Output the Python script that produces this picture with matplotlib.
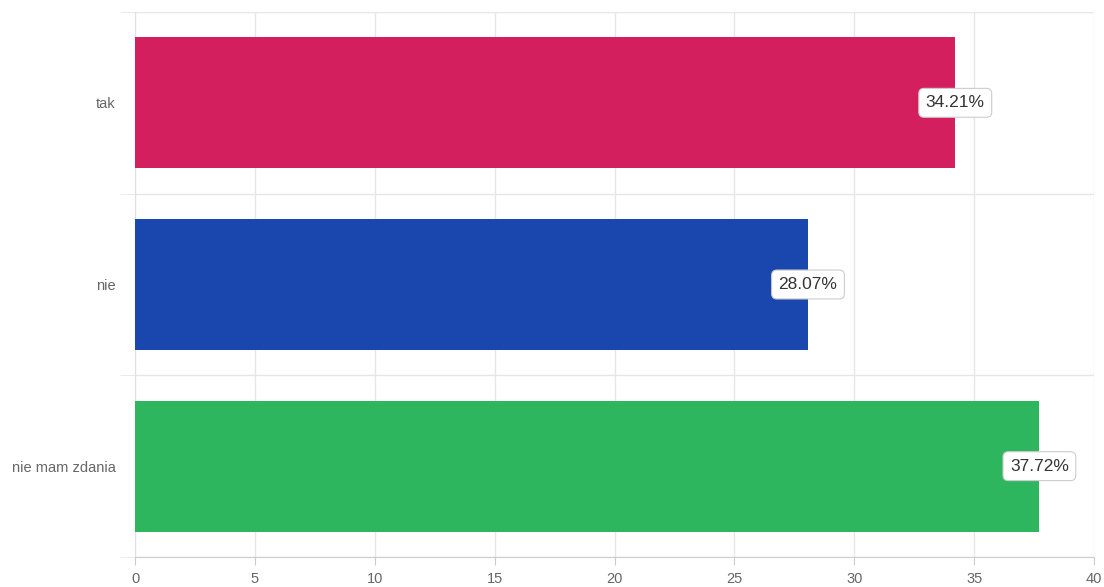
import matplotlib
matplotlib.use("Agg")
import matplotlib.pyplot as plt
from matplotlib.ticker import FixedLocator

plt.rcParams["font.family"] = ["Liberation Sans", "DejaVu Sans"]

categories = ["tak", "nie", "nie mam zdania"]
values = [34.21, 28.07, 37.72]
colors = ["#D41F5E", "#1A47AD", "#2EB65E"]
x_ticks = [0, 5, 10, 15, 20, 25, 30, 35, 40]

fig = plt.figure(figsize=(11.04, 5.87), dpi=100)
ax = fig.add_axes([0.1223, 0.0511, 0.8687, 0.9285])

pos = list(range(len(categories)))
ax.barh(pos, values, height=0.72, color=colors, zorder=3)

for y, v in zip(pos, values):
    ax.text(v, y, f"{v:.2f}%", ha="center", va="center", fontsize=12.5,
            color="#333333", zorder=5,
            bbox=dict(boxstyle="round,pad=0.4,rounding_size=0.3",
                      fc="white", ec="#cccccc", lw=0.8))

ax.set_xlim(0, 40)
ax.set_ylim(len(categories) - 0.5, -0.5)
ax.set_xticks(x_ticks)
ax.set_yticks(pos)
ax.set_yticklabels(categories)
# category separators between bands
ax.yaxis.set_minor_locator(FixedLocator([-0.5, 0.5, 1.5, 2.5]))

ax.grid(axis="x", color="#e6e6e6", lw=1, zorder=0)
ax.grid(axis="y", which="minor", color="#e6e6e6", lw=1, zorder=0)

for s in ["top", "right"]:
    ax.spines[s].set_visible(False)
ax.spines["left"].set_color("#e0e0e0")
ax.spines["bottom"].set_color("#cccccc")

ax.tick_params(axis="y", which="major", length=0, pad=14,
               labelsize=10.5, labelcolor="#666666")
ax.tick_params(axis="y", which="minor", length=11, color="#e6e6e6")
ax.tick_params(axis="x", length=6, color="#cccccc", labelsize=10.5,
               labelcolor="#666666", pad=5)

fig.savefig("out.png", dpi=100)
